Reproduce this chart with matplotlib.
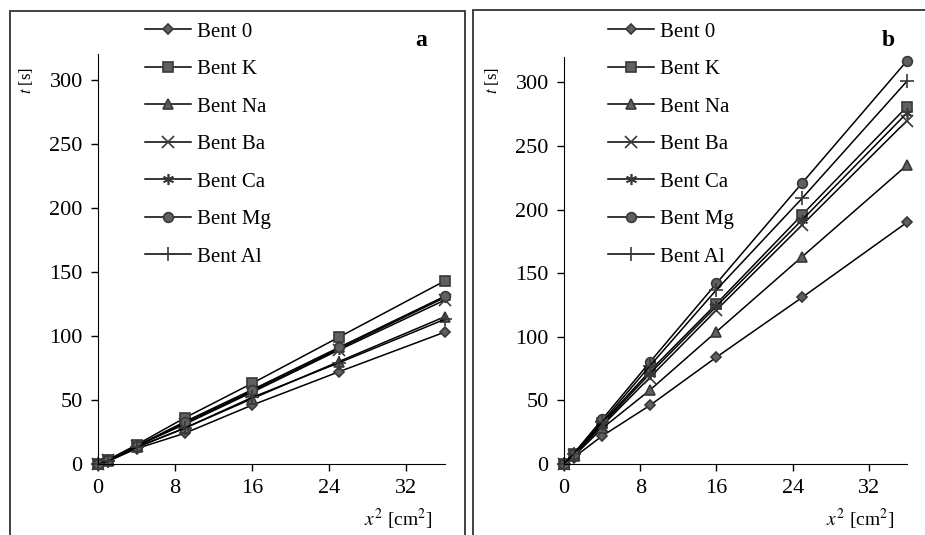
import matplotlib
matplotlib.use("Agg")
import matplotlib.pyplot as plt
from matplotlib.patches import Rectangle

plt.rcParams['font.family'] = ['Liberation Serif', 'DejaVu Serif']
plt.rcParams['mathtext.fontset'] = 'stix'

# x^2 values [cm^2]
x2 = [0, 1, 4, 9, 16, 25, 36]
names = ["Bent 0", "Bent K", "Bent Na", "Bent Ba", "Bent Ca", "Bent Mg", "Bent Al"]

# panel a, t [s]
a_b0 = [0, 2, 12, 24, 46, 72, 103]
a_bk = [0, 3, 15, 36, 63, 99, 143]
a_bna = [0, 2, 13, 28, 51, 80, 115]
a_bba = [0, 3, 14, 31, 56, 89, 128]
a_bca = [0, 3, 14, 32, 57, 90, 130]
a_bmg = [0, 3, 14, 33, 58, 91, 131]
a_bal = [0, 2, 13, 28, 52, 79, 113]

# panel b, t [s]
b_b0 = [0, 5, 22, 46, 84, 131, 190]
b_bk = [0, 8, 32, 73, 126, 196, 281]
b_bna = [0, 6, 28, 58, 104, 163, 235]
b_bba = [0, 7, 30, 68, 121, 188, 270]
b_bca = [0, 7, 31, 71, 124, 192, 276]
b_bmg = [0, 8, 35, 80, 142, 221, 317]
b_bal = [0, 8, 33, 77, 137, 209, 301]

markers = ['D', 's', '^', 'x', (6, 2, 0), 'o', '+']
msizes = [5, 7, 7, 8, 8, 7, 10]

fig = plt.figure(figsize=(9.25, 5.35), dpi=100)
W, H = 925.0, 535.0

# scanned panel frames
fig.patches.append(Rectangle((10 / W, -0.05), 455 / W, 1.05 - 11 / H,
                             transform=fig.transFigure, fill=False, lw=1.3, ec='#333333'))
fig.patches.append(Rectangle((473 / W, -0.05), 500 / W, 1.05 - 10 / H,
                             transform=fig.transFigure, fill=False, lw=1.3, ec='#333333'))


def panel(left, width, height, series, letter, leg_x, letter_x):
    ax = fig.add_axes([left / W, 71 / H, width / W, height / H])
    for name, ys, m, ms in zip(names, series, markers, msizes):
        ax.plot(x2, ys, color='black', lw=1.1, marker=m, ms=ms,
                mfc='#606060', mec='#383838', mew=1.2, label=name, clip_on=False)
    ax.set_xlim(0, 36)
    ax.set_ylim(0, 320)
    ax.set_xticks([0, 8, 16, 24, 32])
    ax.set_yticks([0, 50, 100, 150, 200, 250, 300])
    ax.spines['top'].set_visible(False)
    ax.spines['right'].set_visible(False)
    ax.tick_params(labelsize=16, direction='out', length=5, width=1, pad=6)
    ax.legend(loc='upper left', bbox_to_anchor=(leg_x / W, 1 - 22 / H),
              bbox_transform=fig.transFigure, frameon=False, fontsize=15,
              handlelength=2.2, handletextpad=0.3, labelspacing=0.86,
              borderpad=0, borderaxespad=0)
    fig.text(letter_x / W, 1 - 40 / H, letter, fontsize=17, fontweight='bold',
             ha='center', va='center')
    fig.text((left - 72) / W, 1 - 80 / H, "$t$ [s]", rotation=90, fontsize=12,
             ha='center', va='center')
    fig.text((left + width - 47) / W, 1 - 519 / H, "$x^2$ [cm$^2$]", fontsize=14,
             ha='center', va='center')
    return ax


panel(98, 347, 410, [a_b0, a_bk, a_bna, a_bba, a_bca, a_bmg, a_bal], 'a', 145, 421)
panel(564, 343, 407, [b_b0, b_bk, b_bna, b_bba, b_bca, b_bmg, b_bal], 'b', 608, 888)

fig.savefig("out.png", dpi=100)
